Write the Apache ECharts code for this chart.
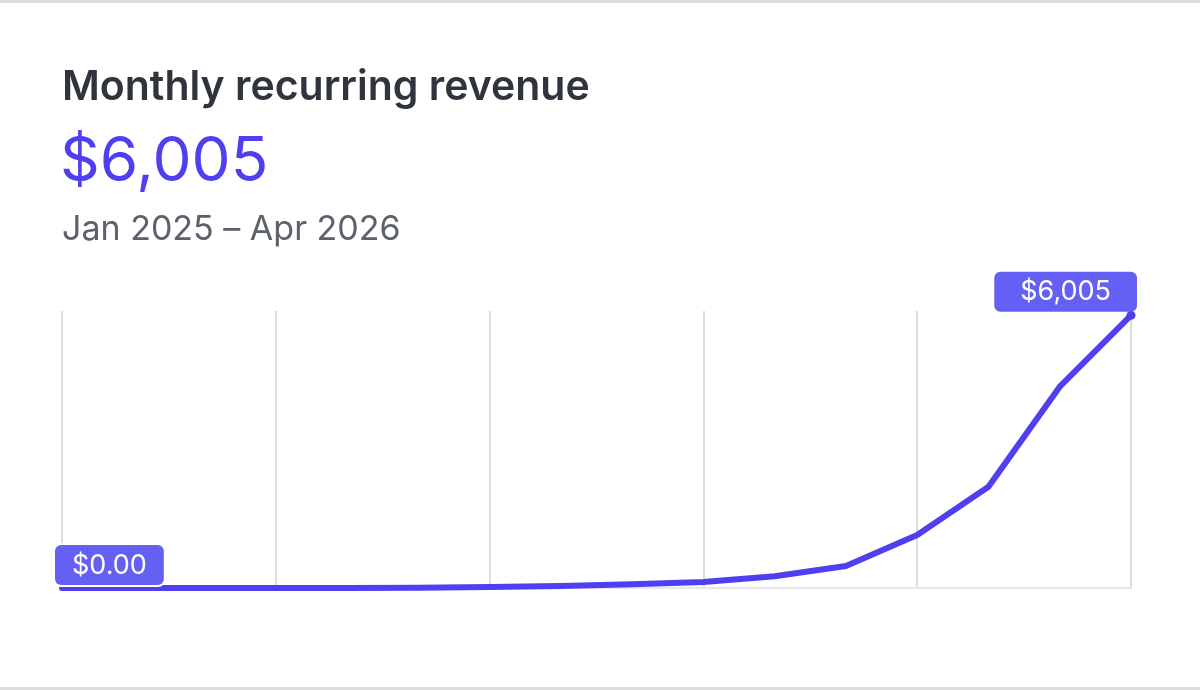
<!DOCTYPE html>
<html>
<head>
<meta charset="utf-8">
<title>Monthly recurring revenue</title>
<script src="https://cdn.jsdelivr.net/npm/echarts@6/dist/echarts.min.js"></script>
<style>
  html, body { margin: 0; padding: 0; background: #fff; }
  #chart { width: 1200px; height: 690px; }
</style>
</head>
<body>
<div id="chart"></div>
<script>
// months Jan 2025 .. Apr 2026
var months = ['Jan 2025','Feb 2025','Mar 2025','Apr 2025','May 2025','Jun 2025','Jul 2025','Aug 2025',
              'Sep 2025','Oct 2025','Nov 2025','Dec 2025','Jan 2026','Feb 2026','Mar 2026','Apr 2026'];
// MRR in dollars
var mrr = [0, 0, 0, 0, 0, 5, 20, 45, 80, 130, 260, 485, 1167, 2230, 4433, 6005];

var lineColor = '#4f3ff0';
var labelBg = '#6560f4';

function money(v, decimals) {
  return '$' + v.toLocaleString('en-US', {minimumFractionDigits: decimals, maximumFractionDigits: decimals});
}

var last = mrr.length - 1;
var seriesData = mrr.map(function(v, i) {
  if (i === 0) {
    return {
      value: v,
      label: {
        show: true, position: 'top', align: 'left', offset: [-7, 2],
        formatter: money(v, 2),
        padding: [7, 17, 6, 17],
        borderColor: '#fff', borderWidth: 2
      }
    };
  }
  if (i === last) {
    return {
      value: v,
      symbolSize: 9,
      label: {
        show: true, position: 'top', align: 'right', offset: [6, 6],
        formatter: money(v, 0),
        padding: [7, 26, 6, 26]
      }
    };
  }
  return v;
});

var chart = echarts.init(document.getElementById('chart'));
var option = {
  animation: false,
  textStyle: { fontFamily: 'Inter, "Noto Sans", sans-serif' },
  graphic: [
    { type: 'rect', shape: { x: 0, y: 0, width: 1200, height: 3 }, style: { fill: '#dcdcdf' } },
    { type: 'rect', shape: { x: 0, y: 687, width: 1200, height: 3 }, style: { fill: '#dcdcdf' } },
    { type: 'text', left: 62, top: 67,
      style: { text: 'Monthly recurring revenue', fill: '#30343c', font: '600 41px Inter, sans-serif' } },
    { type: 'text', left: 60, top: 131,
      style: { text: money(mrr[last], 0), fill: lineColor, font: '400 62px Inter, sans-serif' } },
    { type: 'text', left: 62, top: 213,
      style: { text: 'Jan 2025 \u2013 Apr 2026', fill: '#5c616c', font: '400 34px Inter, sans-serif' } }
  ],
  grid: { left: 62, right: 69, top: 311, bottom: 102, containLabel: false },
  xAxis: {
    type: 'category',
    data: months,
    boundaryGap: false,
    axisLine: { show: true, lineStyle: { color: '#e6e6ea', width: 2 } },
    axisTick: { show: false },
    axisLabel: { show: false },
    splitLine: { show: true, interval: 2, lineStyle: { color: '#dcdce2', width: 2 } }
  },
  yAxis: {
    type: 'value',
    min: 0,
    max: 6100,
    show: false,
    splitLine: { show: false }
  },
  series: [{
    type: 'line',
    data: seriesData,
    symbol: 'circle',
    symbolSize: 0,
    showSymbol: true,
    showAllSymbol: true,
    itemStyle: { color: lineColor },
    lineStyle: { color: lineColor, width: 6, cap: 'round', join: 'round' },
    label: {
      color: '#fff',
      fontSize: 27,
      fontFamily: 'Inter, sans-serif',
      backgroundColor: labelBg,
      borderRadius: 6
    }
  }]
};
chart.setOption(option);
</script>
</body>
</html>
